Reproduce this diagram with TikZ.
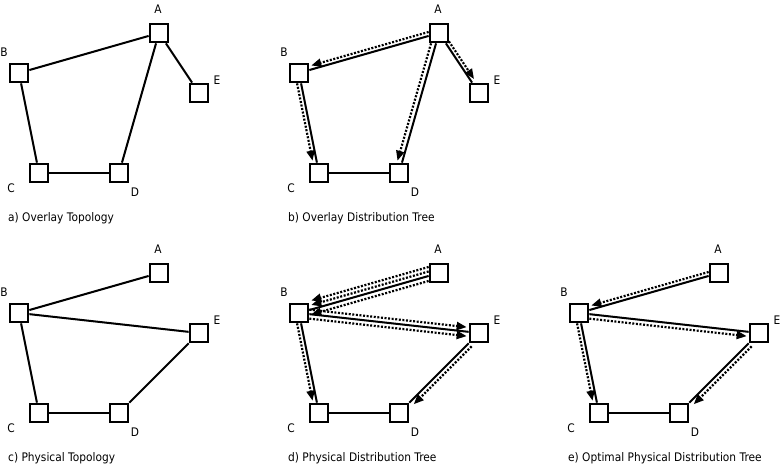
\documentclass[tikz,border=0pt]{standalone}
\usepackage{fontspec}
\setmainfont{DejaVu Sans}[FakeStretch=0.9]
\usetikzlibrary{arrows.meta}

\tikzset{
  router/.style={draw, line width=2.2pt, minimum size=18.5pt, inner sep=0pt},
  link/.style={line width=2pt},
  flow/.style={line width=2.2pt, dash pattern=on 2pt off 1.6pt,
    shorten >=2pt, -{Triangle[length=10pt,width=8pt]}},
  tag/.style={font=\fontsize{11.8}{14}\selectfont, inner sep=0pt},
}

\begin{document}
\begin{tikzpicture}[x=1pt, y=-1pt]
    \useasboundingbox (0,0) rectangle (784,470);

    % the same five hosts in every panel
    \foreach \p/\dx/\dy/\txt in {a/0/0/a) Overlay Topology,
                                 b/280/0/b) Overlay Distribution Tree,
                                 c/0/240/c) Physical Topology,
                                 d/280/240/d) Physical Distribution Tree,
                                 e/560/240/e) Optimal Physical Distribution Tree} {
        \begin{scope}[shift={(\dx,\dy)}]
            \node[router] (\p A) at (159,33) {};
            \node[router] (\p B) at (19,73) {};
            \node[router] (\p C) at (39,173) {};
            \node[router] (\p D) at (119,173) {};
            \node[router] (\p E) at (199,93) {};

            \node[tag] (\p Al) at (158,9) {A};
            \node[tag] (\p Bl) at (4,52) {B};
            \node[tag] (\p Cl) at (11,188) {C};
            \node[tag] (\p Dl) at (135,192) {D};
            \node[tag] (\p El) at (217,80) {E};

            \node[tag, anchor=west] (\p cap) at (8,218) {\txt};
        \end{scope}
    }

    % a) overlay topology
    \draw[link] (aA) -- (aB);
    \draw[link] (aA) -- (aE);
    \draw[link] (aA) -- (aD);
    \draw[link] (aB) -- (aC);
    \draw[link] (aC) -- (aD);

    % b) overlay tree
    \draw[link] (bA) -- (bB);
    \draw[link] (bA) -- (bE);
    \draw[link] (bA) -- (bD);
    \draw[link] (bB) -- (bC);
    \draw[link] (bC) -- (bD);
    \draw[flow, transform canvas={yshift=4pt}] (bA) -- (bB);
    \draw[flow, transform canvas={xshift=3pt, yshift=2pt}] (bA) -- (bE);
    \draw[flow, transform canvas={xshift=-5pt}] (bA) -- (bD);
    \draw[flow, transform canvas={xshift=-4pt}] (bB) -- (bC);

    % c) physical topology
    \draw[link] (cA) -- (cB);
    \draw[link] (cB) -- (cE);
    \draw[link] (cB) -- (cC);
    \draw[link] (cC) -- (cD);
    \draw[link] (cD) -- (cE);

    % d) physical tree
    \draw[link] (dA) -- (dB);
    \draw[link] (dB) -- (dE);
    \draw[link] (dB) -- (dC);
    \draw[link] (dC) -- (dD);
    \draw[link] (dD) -- (dE);
    \draw[flow, transform canvas={yshift=9pt}] (dA) -- (dB);
    \draw[flow, transform canvas={yshift=4.5pt}] (dA) -- (dB);
    \draw[flow, transform canvas={yshift=-5pt}] (dA) -- (dB);
    \draw[flow, transform canvas={yshift=4.5pt}] (dB) -- (dE);
    \draw[flow, transform canvas={yshift=-4.5pt}] (dB) -- (dE);
    \draw[flow, transform canvas={xshift=-4pt}] (dB) -- (dC);
    \draw[flow, transform canvas={xshift=3pt, yshift=-3pt}] (dE) -- (dD);

    % e) optimal physical tree
    \draw[link] (eA) -- (eB);
    \draw[link] (eB) -- (eE);
    \draw[link] (eB) -- (eC);
    \draw[link] (eC) -- (eD);
    \draw[link] (eD) -- (eE);
    \draw[flow, transform canvas={yshift=4pt}] (eA) -- (eB);
    \draw[flow, transform canvas={yshift=-4.5pt}] (eB) -- (eE);
    \draw[flow, transform canvas={xshift=-4pt}] (eB) -- (eC);
    \draw[flow, transform canvas={xshift=3pt, yshift=-3pt}] (eE) -- (eD);
\end{tikzpicture}
\end{document}
